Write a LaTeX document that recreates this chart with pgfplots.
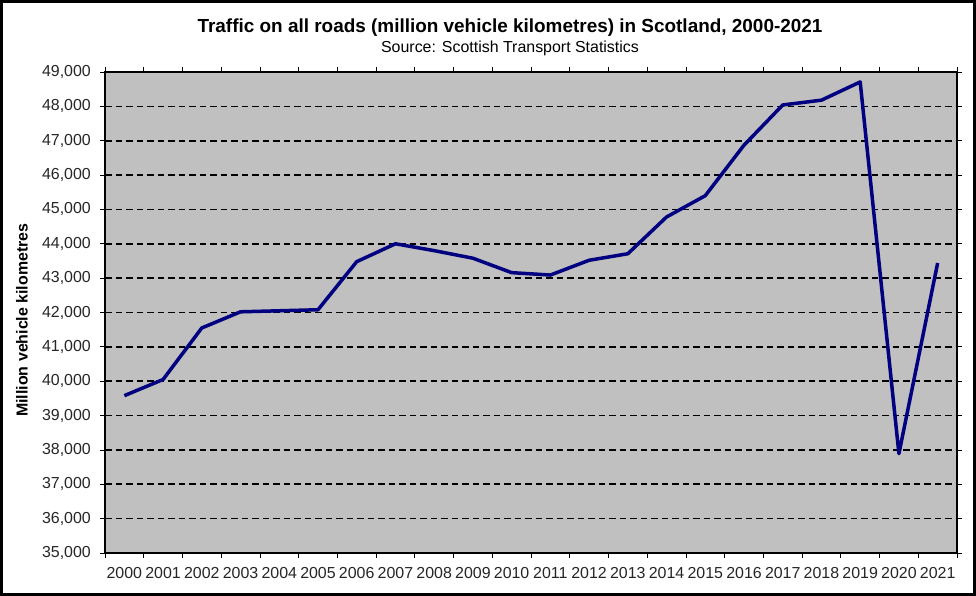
\documentclass[border=0pt]{standalone}
\usepackage{fontspec}
\setmainfont{Liberation Sans}
\usepackage{pgfplots}
\pgfplotsset{compat=1.18}
\definecolor{plotgrey}{HTML}{C0C0C0}
\definecolor{navyline}{HTML}{000080}
\begin{document}
\begin{tikzpicture}
\useasboundingbox (0,0) rectangle (976bp,596bp);
\fill[white] (0,0) rectangle (976bp,596bp);
\begin{axis}[
  at={(105bp,43bp)}, anchor=south west,
  scale only axis, width=852bp, height=481bp,
  xmin=-0.5, xmax=21.5, ymin=35000, ymax=49000,
  axis background/.style={fill=plotgrey},
  axis line style={black, line width=1.3bp},
  xtick={0,...,21},
  xticklabels={2000,2001,2002,2003,2004,2005,2006,2007,2008,2009,2010,2011,2012,2013,2014,2015,2016,2017,2018,2019,2020,2021},
  major x tick style={draw=none},
  minor xtick={-0.5,0.5,...,21.5},
  minor x tick style={black, line width=0.8bp},
  ytick={35000,36000,...,49000},
  scaled y ticks=false,
  y tick style={black, line width=0.8bp},
  tick align=outside,
  major tick length=5bp, minor tick length=5bp,
  ymajorgrids,
  major grid style={black, line width=1.6bp, dash pattern=on 6.5bp off 4bp},
  /pgf/number format/.cd, fixed, 1000 sep={,}, assume math mode=true,
  /pgfplots/.cd,
  tick label style={font=\fontsize{16}{19}\selectfont, text=black!85},
  xticklabel style={anchor=north, inner sep=0pt, yshift=-9bp},
  yticklabel style={anchor=east, inner sep=0pt, xshift=-9bp},
  ylabel={Million vehicle kilometres},
  every axis y label/.style={at={(axis description cs:-0.0974,0.484)}, rotate=90, anchor=center, font=\fontsize{16}{19}\selectfont\bfseries},
]
\addplot[navyline, line width=3.5bp, line join=round] coordinates {
(0,39580) (1,40050) (2,41550) (3,42020) (4,42050) (5,42080) (6,43480) (7,44000)
(8,43800) (9,43580) (10,43160) (11,43090) (12,43520) (13,43710) (14,44780)
(15,45400) (16,46870) (17,48040) (18,48180) (19,48710) (20,37890) (21,43440)
};
\end{axis}
\node[anchor=base, inner sep=0pt, font=\fontsize{19}{22}\selectfont\bfseries] at (510bp,563bp) {Traffic on all roads (million vehicle kilometres) in Scotland, 2000-2021};
\node[anchor=base, inner sep=0pt, font=\fontsize{16}{19}\selectfont] at (510bp,543bp) {Source: Scottish Transport Statistics};
\draw[black, line width=3bp] (1.5bp,1.5bp) rectangle (974.5bp,594.5bp);
\end{tikzpicture}
\end{document}
